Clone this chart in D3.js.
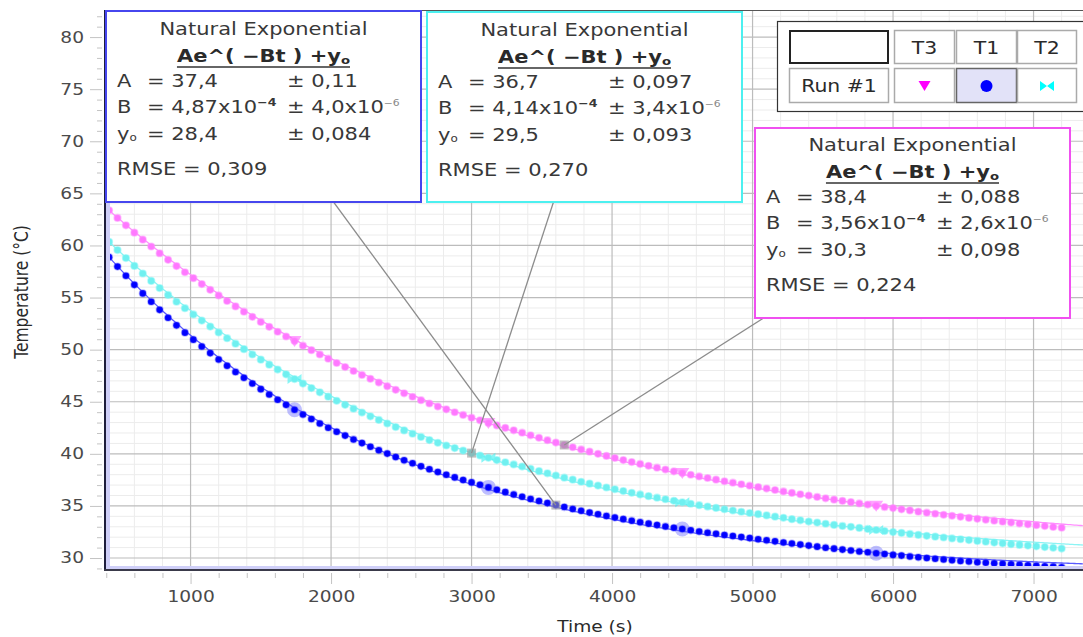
<!DOCTYPE html>
<html><head><meta charset="utf-8">
<script src="https://cdn.jsdelivr.net/npm/d3@7"></script>
<style>body{margin:0;background:#fff;overflow:hidden} svg{display:block}</style>
</head><body><svg id="c" width="1083" height="637"></svg>
<script>
// ---------------- DATA ----------------
const times = [420,480,540,600,660,720,780,840,900,960,
1020,1080,1140,1200,1260,1320,1380,1440,1500,1560,
1620,1680,1740,1800,1860,1920,1980,2040,2100,2160,
2220,2280,2340,2400,2460,2520,2580,2640,2700,2760,
2820,2880,2940,3000,3060,3120,3180,3240,3300,3360,
3420,3480,3540,3600,3660,3720,3780,3840,3900,3960,
4020,4080,4140,4200,4260,4320,4380,4440,4500,4560,
4620,4680,4740,4800,4860,4920,4980,5040,5100,5160,
5220,5280,5340,5400,5460,5520,5580,5640,5700,5760,
5820,5880,5940,6000,6060,6120,6180,6240,6300,6360,
6420,6480,6540,6600,6660,6720,6780,6840,6900,6960,
7020,7080,7140,7200];

const tempT1 = [58.88,57.97,57.09,56.22,55.40,54.60,53.82,53.06,52.33,51.63,
50.96,50.30,49.67,49.05,48.45,47.86,47.30,46.75,46.21,45.70,
45.19,44.70,44.23,43.77,43.34,42.91,42.51,42.12,41.75,41.38,
41.03,40.68,40.35,40.02,39.69,39.38,39.09,38.80,38.52,38.25,
37.99,37.74,37.49,37.26,37.03,36.78,36.55,36.32,36.10,35.88,
35.67,35.47,35.27,35.08,34.89,34.71,34.53,34.36,34.20,34.04,
33.88,33.73,33.58,33.44,33.30,33.16,33.03,32.90,32.78,32.66,
32.54,32.43,32.32,32.21,32.11,32.01,31.91,31.80,31.70,31.60,
31.49,31.39,31.29,31.19,31.09,30.99,30.90,30.81,30.72,30.63,
30.55,30.46,30.38,30.30,30.23,30.15,30.07,30.00,29.93,29.86,
29.79,29.72,29.66,29.60,29.55,29.50,29.45,29.40,29.35,29.30,
29.26,29.21,29.17,29.12];

const tempT2 = [60.34,59.56,58.79,58.04,57.31,56.60,55.91,55.25,54.60,53.98,
53.38,52.79,52.21,51.65,51.10,50.57,50.05,49.54,49.04,48.56,
48.09,47.63,47.18,46.74,46.31,45.90,45.49,45.09,44.70,44.33,
43.96,43.60,43.25,42.91,42.57,42.25,41.93,41.62,41.32,41.06,
40.80,40.55,40.31,40.07,39.84,39.62,39.40,39.19,38.98,38.78,
38.56,38.34,38.13,37.92,37.71,37.52,37.32,37.14,36.95,36.77,
36.60,36.43,36.26,36.10,35.94,35.79,35.64,35.49,35.35,35.21,
35.07,34.94,34.81,34.68,34.56,34.44,34.32,34.21,34.09,33.97,
33.86,33.73,33.62,33.50,33.40,33.29,33.18,33.08,32.99,32.89,
32.79,32.69,32.59,32.49,32.41,32.31,32.22,32.13,32.05,31.97,
31.88,31.80,31.72,31.64,31.56,31.48,31.41,31.33,31.26,31.19,
31.12,31.05,30.98,30.91];

const tempT3 = [63.37,62.64,61.93,61.23,60.56,59.90,59.25,58.62,58.02,57.43,
56.86,56.29,55.74,55.20,54.67,54.15,53.64,53.15,52.66,52.19,
51.72,51.26,50.82,50.38,49.95,49.54,49.13,48.72,48.33,47.95,
47.57,47.20,46.84,46.49,46.14,45.81,45.48,45.15,44.83,44.54,
44.27,43.99,43.73,43.47,43.22,42.96,42.73,42.49,42.26,42.03,
41.78,41.54,41.31,41.08,40.85,40.63,40.42,40.21,40.00,39.80,
39.60,39.40,39.21,39.03,38.85,38.67,38.49,38.32,38.16,37.99,
37.83,37.68,37.52,37.37,37.23,37.08,36.94,36.80,36.67,36.53,
36.39,36.25,36.12,35.99,35.86,35.73,35.60,35.48,35.36,35.24,
35.13,35.01,34.89,34.79,34.67,34.57,34.45,34.35,34.25,34.15,
34.05,33.95,33.85,33.76,33.67,33.58,33.49,33.40,33.31,33.23,
33.15,33.07,32.98,32.91];

// fit parameters (order: T1, T2, T3)
const fitNames = ["T1", "T2", "T3"];
const fitA  = [37.4, 36.7, 38.4];
const fitB  = [4.87e-4, 4.14e-4, 3.56e-4];
const fitY0 = [28.4, 29.5, 30.3];
const txtA    = ["37,4", "36,7", "38,4"];
const txtAerr = ["0,11", "0,097", "0,088"];
const txtB    = ["4,87", "4,14", "3,56"];
const txtBerr = ["4,0", "3,4", "2,6"];
const txtY0   = ["28,4", "29,5", "30,3"];
const txtY0err= ["0,084", "0,093", "0,098"];
const txtRMSE = ["0,309", "0,270", "0,224"];
const annotTimes = [3600, 3000, 3660];
const protectorTimes = [1740, 3120, 4500, 5880];

const legendCols = ["T3", "T1", "T2"];
const legendRow = "Run #1";
const xTicks = [1000, 2000, 3000, 4000, 5000, 6000, 7000];
const yTicks = [30, 35, 40, 45, 50, 55, 60, 65, 70, 75, 80];
const xTitle = "Time (s)";
const yTitle = "Temperature (°C)";

// ---------------- STYLE ----------------
const SX = 1.2;
const FONT = "'DejaVu Sans', Verdana, sans-serif";
const dotFill = {T1: "#0000ff", T2: "#70f0f0", T3: "#ff78ff"};
const dotStroke = {T1: "rgba(60,60,255,0.35)", T2: "rgba(120,245,245,0.5)", T3: "rgba(255,140,255,0.5)"};
const fitColor = {T1: "#5a5aff", T2: "#8cf4f4", T3: "#ff90ff"};
const boxStroke = {T1: "#4646ee", T2: "#4cf0f0", T3: "#f050f0"};

const L = 105, T = 10, R = 1083, B = 570;
const svg = d3.select("#c");
const x = d3.scaleLinear().domain([391, 7352]).range([L, R]);
const y = d3.scaleLinear().domain([28.85, 82.6]).range([B, T]);

function stext(g, px, py, s, o = {}) {
  const t = g.append("text")
    .attr("transform", `translate(${px},${py}) scale(${o.sx || SX},1)` + (o.rot ? ` rotate(${o.rot})` : ""))
    .attr("font-family", FONT)
    .attr("font-size", o.size || 17)
    .attr("fill", o.fill || "#383838")
    .attr("text-anchor", o.anchor || "start")
    .attr("font-weight", o.weight || "normal");
  if (s != null) t.text(s);
  return t;
}

svg.append("rect").attr("width", 1083).attr("height", 637).attr("fill", "#fff");

svg.append("defs").append("clipPath").attr("id", "pc")
  .append("rect").attr("x", L).attr("y", T).attr("width", R - L).attr("height", B - T);

const plot = svg.append("g").attr("clip-path", "url(#pc)");

// grid
const minorX = d3.range(400, 7400, 200).filter(v => v % 1000 !== 0);
const minorY = d3.range(29, 83, 1).filter(v => v % 5 !== 0);
plot.selectAll(".mx").data(minorX).join("line")
  .attr("x1", d => x(d)).attr("x2", d => x(d)).attr("y1", T).attr("y2", B)
  .attr("stroke", "#ececec").attr("stroke-width", 1);
plot.selectAll(".my").data(minorY).join("line")
  .attr("y1", d => y(d)).attr("y2", d => y(d)).attr("x1", L).attr("x2", R)
  .attr("stroke", "#ececec").attr("stroke-width", 1);
plot.selectAll(".gx").data(xTicks).join("line")
  .attr("x1", d => x(d)).attr("x2", d => x(d)).attr("y1", T).attr("y2", B)
  .attr("stroke", "#bcbcbc").attr("stroke-width", 1.2);
plot.selectAll(".gy").data(yTicks).join("line")
  .attr("y1", d => y(d)).attr("y2", d => y(d)).attr("x1", L).attr("x2", R)
  .attr("stroke", "#bcbcbc").attr("stroke-width", 1.2);

// series
const series = {
  T1: times.map((t, i) => ({t, v: tempT1[i]})),
  T2: times.map((t, i) => ({t, v: tempT2[i]})),
  T3: times.map((t, i) => ({t, v: tempT3[i]}))
};

// fit curves
const fitT = d3.range(391, 7360, 15);
const drawOrder = ["T3", "T2", "T1"];
drawOrder.forEach(name => {
  const k = fitNames.indexOf(name);
  const pts = fitT.map(t => [t, fitA[k] * Math.exp(-fitB[k] * t) + fitY0[k]]);
  plot.append("path").datum(pts)
    .attr("d", d3.line().x(d => x(d[0])).y(d => y(d[1])))
    .attr("fill", "none").attr("stroke", fitColor[name]).attr("stroke-width", 1.3);
});

// point protectors
function protector(g, name, cx, cy) {
  if (name === "T1") {
    g.append("circle").attr("cx", cx).attr("cy", cy).attr("r", 7.5)
      .attr("fill", "rgba(110,110,255,0.45)");
  } else if (name === "T3") {
    g.append("path").attr("d", `M${cx-7},${cy-5}L${cx+7},${cy-5}L${cx},${cy+6}Z`)
      .attr("fill", "rgba(255,90,255,0.55)");
  } else {
    g.append("path").attr("d", `M${cx-7},${cy-5}L${cx},${cy}L${cx-7},${cy+5}Z M${cx+7},${cy-5}L${cx},${cy}L${cx+7},${cy+5}Z`)
      .attr("fill", "rgba(60,240,240,0.6)");
  }
}
drawOrder.forEach(name => {
  const g = plot.append("g");
  const data = series[name];
  protectorTimes.forEach(pt => {
    const d = data.find(p => p.t === pt);
    if (d) protector(g, name, x(d.t), y(d.v));
  });
  g.selectAll("circle.dot").data(data).join("circle").attr("class", "dot")
    .attr("cx", d => x(d.t)).attr("cy", d => y(d.v)).attr("r", 3.3)
    .attr("fill", dotFill[name]).attr("stroke", dotStroke[name]).attr("stroke-width", 1.6);
});

// top frame line
svg.append("line").attr("x1", L).attr("x2", R).attr("y1", T + 0.5).attr("y2", T + 0.5)
  .attr("stroke", "#555").attr("stroke-width", 1);

// axes
svg.append("rect").attr("x", L + 1).attr("y", T).attr("width", 4).attr("height", B - T).attr("fill", "#cfcff8");
svg.append("rect").attr("x", L + 1).attr("y", B - 4).attr("width", R - L).attr("height", 4).attr("fill", "#cfcff8");
svg.append("line").attr("x1", L).attr("x2", L).attr("y1", T).attr("y2", B + 1)
  .attr("stroke", "#1e1e3c").attr("stroke-width", 2);
svg.append("line").attr("x1", L - 1).attr("x2", R).attr("y1", B).attr("y2", B)
  .attr("stroke", "#3a3a4a").attr("stroke-width", 2.2);

const yAxisMinor = svg.append("g").attr("transform", `translate(${L - 3},0)`)
  .call(d3.axisLeft(y).tickValues(minorY).tickSize(5).tickFormat(""));
const yAxis = svg.append("g").attr("transform", `translate(${L - 3},0)`)
  .call(d3.axisLeft(y).tickValues(yTicks).tickSize(12).tickPadding(6).tickFormat(d3.format("d")));
const xAxisMinor = svg.append("g").attr("transform", `translate(0,${B + 3})`)
  .call(d3.axisBottom(x).tickValues(minorX).tickSize(5).tickFormat(""));
const xAxis = svg.append("g").attr("transform", `translate(0,${B + 3})`)
  .call(d3.axisBottom(x).tickValues(xTicks).tickSize(11).tickPadding(7).tickFormat(d3.format("d")));
[yAxisMinor, yAxis, xAxisMinor, xAxis].forEach(a => {
  a.select(".domain").remove();
  a.selectAll(".tick line").attr("stroke", "#c4c4c4");
  a.selectAll("text").attr("font-family", FONT).attr("font-size", 15.5).attr("fill", "#4a4a4a");
});
yAxis.selectAll("text").each(function () {
  const t = d3.select(this);
  const xx = +t.attr("x");
  t.attr("x", xx / SX).attr("transform", `scale(${SX},1)`);
});
xAxis.selectAll("text").attr("transform", `scale(${SX},1)`);

// axis titles
stext(svg, 595, 632, xTitle, {size: 15.5, anchor: "middle", fill: "#2a2a2a"});
stext(svg, 28, 292, yTitle, {size: 15.5, anchor: "middle", fill: "#2a2a2a", rot: -90});

// leader lines
const boxes = [
  {name: "T1", x: 106, y: 11, w: 315, h: 191},
  {name: "T2", x: 427, y: 12, w: 315, h: 190},
  {name: "T3", x: 755, y: 128, w: 315, h: 190}
];
boxes.forEach((b, k) => {
  const name = fitNames[k];
  const d = series[name].find(p => p.t === annotTimes[k]);
  const px = x(d.t), py = y(d.v);
  svg.append("line").attr("x1", b.x + b.w / 2).attr("y1", b.y + b.h / 2)
    .attr("x2", px).attr("y2", py).attr("stroke", "#8c8c8c").attr("stroke-width", 1.3);
  svg.append("rect").attr("x", px - 4.5).attr("y", py - 4.5).attr("width", 9).attr("height", 9)
    .attr("fill", "rgba(150,150,150,0.6)");
});

// annotation boxes
boxes.forEach((b, k) => {
  const name = fitNames[k];
  const g = svg.append("g");
  g.append("rect").attr("x", b.x).attr("y", b.y).attr("width", b.w).attr("height", b.h)
    .attr("fill", "#fff").attr("stroke", boxStroke[name]).attr("stroke-width", 2);
  const cx = b.x + b.w / 2;
  const baseTop = b.y;
  const off = k === 2 ? -1 : 0;
  stext(g, cx, baseTop + 24 + off, "Natural Exponential", {size: 17.5, anchor: "middle"});
  const f = stext(g, cx, baseTop + 51 + off, null, {size: 17.5, anchor: "middle", weight: "bold", fill: "#2a2a2a"});
  f.append("tspan").text("Ae^( \u2212Bt ) +y");
  f.append("tspan").attr("font-size", 11).attr("dy", 2).text("o");
  const bb = f.node().getBBox();
  g.append("line").attr("x1", cx + bb.x * SX).attr("x2", cx + (bb.x + bb.width) * SX)
    .attr("y1", baseTop + 56 + off).attr("y2", baseTop + 56 + off)
    .attr("stroke", "#333").attr("stroke-width", 1.6);
  const lx = b.x + 11, ex = b.x + 41, px = b.x + 181;
  const rows = [76, 102, 129];
  stext(g, lx, baseTop + rows[0] + off, "A", {size: 17.5});
  stext(g, ex, baseTop + rows[0] + off, "= " + txtA[k], {size: 17.5});
  stext(g, px, baseTop + rows[0] + off, "\u00b1 " + txtAerr[k], {size: 17.5});
  stext(g, lx, baseTop + rows[1] + off, "B", {size: 17.5});
  const bt = stext(g, ex, baseTop + rows[1] + off, null, {size: 17.5});
  bt.append("tspan").text("= " + txtB[k] + "x10");
  bt.append("tspan").attr("font-size", 10.5).attr("dy", -7).attr("font-weight", "bold").text("\u22124");
  const be = stext(g, px, baseTop + rows[1] + off, null, {size: 17.5});
  be.append("tspan").text("\u00b1 " + txtBerr[k] + "x10");
  be.append("tspan").attr("font-size", 9).attr("dy", -7).attr("fill", "#888").text("\u22126");
  const yt = stext(g, lx, baseTop + rows[2] + off, null, {size: 17.5});
  yt.append("tspan").text("y");
  yt.append("tspan").attr("font-size", 10).attr("dy", 1).text("o");
  stext(g, ex, baseTop + rows[2] + off, "= " + txtY0[k], {size: 17.5});
  stext(g, px, baseTop + rows[2] + off, "\u00b1 " + txtY0err[k], {size: 17.5});
  stext(g, lx, baseTop + 164 + off, "RMSE = " + txtRMSE[k], {size: 17.5});
});

// legend table
const lg = svg.append("g");
lg.append("rect").attr("x", 777.5).attr("y", 21.5).attr("width", 320).attr("height", 90)
  .attr("fill", "#fff").attr("stroke", "#333").attr("stroke-width", 1.2);
lg.append("rect").attr("x", 790).attr("y", 31).attr("width", 98).attr("height", 32)
  .attr("fill", "#fff").attr("stroke", "#222").attr("stroke-width", 2);
lg.append("rect").attr("x", 789.5).attr("y", 68.5).attr("width", 99).attr("height", 34)
  .attr("fill", "#fff").attr("stroke", "#aaa").attr("stroke-width", 1.5);
stext(lg, 839, 92, legendRow, {size: 17, anchor: "middle", fill: "#2a2a2a"});
const colX = [894, 956, 1017];
legendCols.forEach((c, i) => {
  const cx0 = colX[i], w = i === 2 ? 60 : 61;
  lg.append("rect").attr("x", cx0 + 0.5).attr("y", 30.5).attr("width", w - 1).attr("height", 33)
    .attr("fill", "#fff").attr("stroke", "#aaa").attr("stroke-width", 1.5);
  stext(lg, cx0 + w / 2, 54, c, {size: 17, anchor: "middle", fill: "#2a2a2a"});
  const sel = c === "T1";
  lg.append("rect").attr("x", cx0 + 0.5).attr("y", 68.5).attr("width", w - 1).attr("height", 34)
    .attr("fill", sel ? "#e2e2f8" : "#fff").attr("stroke", sel ? "#666" : "#aaa").attr("stroke-width", 1.5);
  const mx = cx0 + w / 2, my = 86;
  if (c === "T3") {
    lg.append("path").attr("d", `M${mx-6},${my-5}L${mx+6},${my-5}L${mx},${my+5}Z`).attr("fill", "#ff00ff");
  } else if (c === "T1") {
    lg.append("circle").attr("cx", mx).attr("cy", my).attr("r", 6).attr("fill", "#0000ff");
  } else {
    lg.append("path").attr("d", `M${mx-7},${my-5}L${mx},${my}L${mx-7},${my+5}Z M${mx+7},${my-5}L${mx},${my}L${mx+7},${my+5}Z`)
      .attr("fill", "#00ffff");
  }
});
</script>
</body></html>
